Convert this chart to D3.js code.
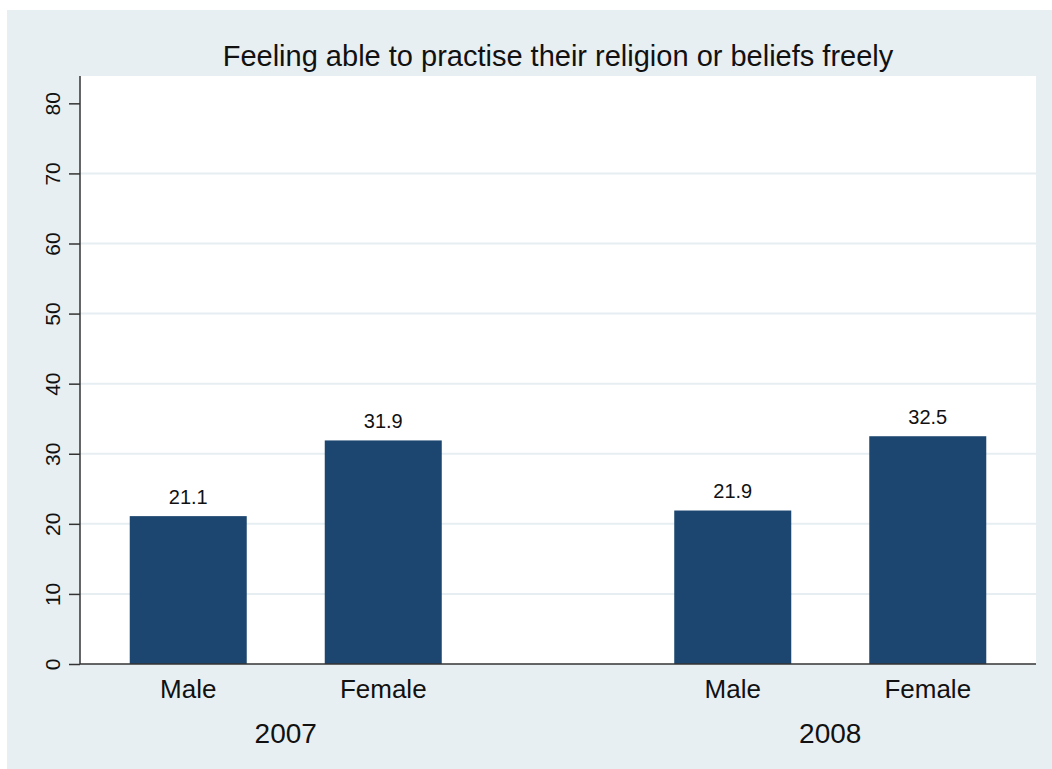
<!DOCTYPE html>
<html>
<head>
<meta charset="utf-8">
<script src="https://cdn.jsdelivr.net/npm/d3@7"></script>
<style>
  html, body { margin: 0; padding: 0; background: #ffffff; }
  svg { display: block; font-family: "Liberation Sans", Arial, sans-serif; }
</style>
</head>
<body>
<svg id="chart" width="1052" height="769"></svg>
<script>
const title = "Feeling able to practise their religion or beliefs freely";
const years = ["2007", "2008"];
const sexes = ["Male", "Female"];
const values2007 = [21.1, 31.9];
const values2008 = [21.9, 32.5];
const yTicks = [0, 10, 20, 30, 40, 50, 60, 70, 80];
const gridTicks = [10, 20, 30, 40, 50, 60, 70];

const data = [];
years.forEach((yr, i) => {
  const vals = i === 0 ? values2007 : values2008;
  sexes.forEach((s, j) => data.push({ year: yr, sex: s, value: vals[j] }));
});

const svg = d3.select("#chart");
const W = 1052, H = 769;
const plot = { left: 80, right: 1036, top: 76, bottom: 664 };

// outer panel
svg.append("rect").attr("x", 7).attr("y", 10).attr("width", W - 7).attr("height", H - 10)
  .attr("fill", "#e8eff2");
// plot area
svg.append("rect").attr("x", plot.left).attr("y", plot.top)
  .attr("width", plot.right - plot.left).attr("height", plot.bottom - plot.top)
  .attr("fill", "#ffffff");

const y = d3.scaleLinear().domain([0, 83.9]).range([plot.bottom, plot.top]);
const x0 = d3.scaleBand().domain(years).range([plot.left, plot.right])
  .paddingInner(0.2837).paddingOuter(0.0197);
const x1 = d3.scaleBand().domain(sexes).range([0, x0.bandwidth()])
  .paddingInner(0.4).paddingOuter(0.2);

// gridlines
svg.append("g").selectAll("line").data(gridTicks).join("line")
  .attr("x1", plot.left).attr("x2", plot.right)
  .attr("y1", d => y(d)).attr("y2", d => y(d))
  .attr("stroke", "#e6eef2").attr("stroke-width", 2);

// bars
svg.append("g").selectAll("rect").data(data).join("rect")
  .attr("x", d => x0(d.year) + x1(d.sex))
  .attr("width", x1.bandwidth())
  .attr("y", d => y(d.value))
  .attr("height", d => y(0) - y(d.value))
  .attr("fill", "#1c466f");

// value labels
svg.append("g").selectAll("text").data(data).join("text")
  .attr("x", d => x0(d.year) + x1(d.sex) + x1.bandwidth() / 2)
  .attr("y", d => y(d.value) - 12.5)
  .attr("text-anchor", "middle")
  .attr("font-size", 20)
  .attr("fill", "#111")
  .text(d => d.value.toFixed(1));

// y axis
const yAxis = d3.axisLeft(y).tickValues(yTicks).tickSize(11).tickPadding(0).tickFormat(d3.format("d"));
const gy = svg.append("g").attr("transform", `translate(${plot.left},0)`).call(yAxis);
gy.select(".domain").attr("stroke", "#333").attr("stroke-width", 1.5)
  .attr("d", `M0,${plot.top}V${plot.bottom}`);
gy.selectAll(".tick line").attr("stroke", "#333").attr("stroke-width", 1.5);
gy.selectAll(".tick text")
  .attr("font-size", 21).attr("fill", "#111")
  .attr("font-family", "Liberation Sans, Arial, sans-serif")
  .attr("text-anchor", "middle")
  .attr("x", null).attr("dy", null)
  .attr("transform", "translate(-20,0) rotate(-90)");

// x baseline
svg.append("line").attr("x1", plot.left).attr("x2", plot.right)
  .attr("y1", plot.bottom).attr("y2", plot.bottom)
  .attr("stroke", "#333").attr("stroke-width", 1.5);

// sex labels
svg.append("g").selectAll("text").data(data).join("text")
  .attr("x", d => x0(d.year) + x1(d.sex) + x1.bandwidth() / 2)
  .attr("y", 697.5)
  .attr("text-anchor", "middle")
  .attr("font-size", 26)
  .attr("fill", "#111")
  .text(d => d.sex);

// year labels
svg.append("g").selectAll("text").data(years).join("text")
  .attr("x", d => x0(d) + x0.bandwidth() / 2)
  .attr("y", 743)
  .attr("text-anchor", "middle")
  .attr("font-size", 28)
  .attr("fill", "#111")
  .text(d => d);

// title
svg.append("text")
  .attr("x", (plot.left + plot.right) / 2)
  .attr("y", 65.5)
  .attr("text-anchor", "middle")
  .attr("font-size", 29)
  .attr("fill", "#111")
  .text(title);
</script>
</body>
</html>
